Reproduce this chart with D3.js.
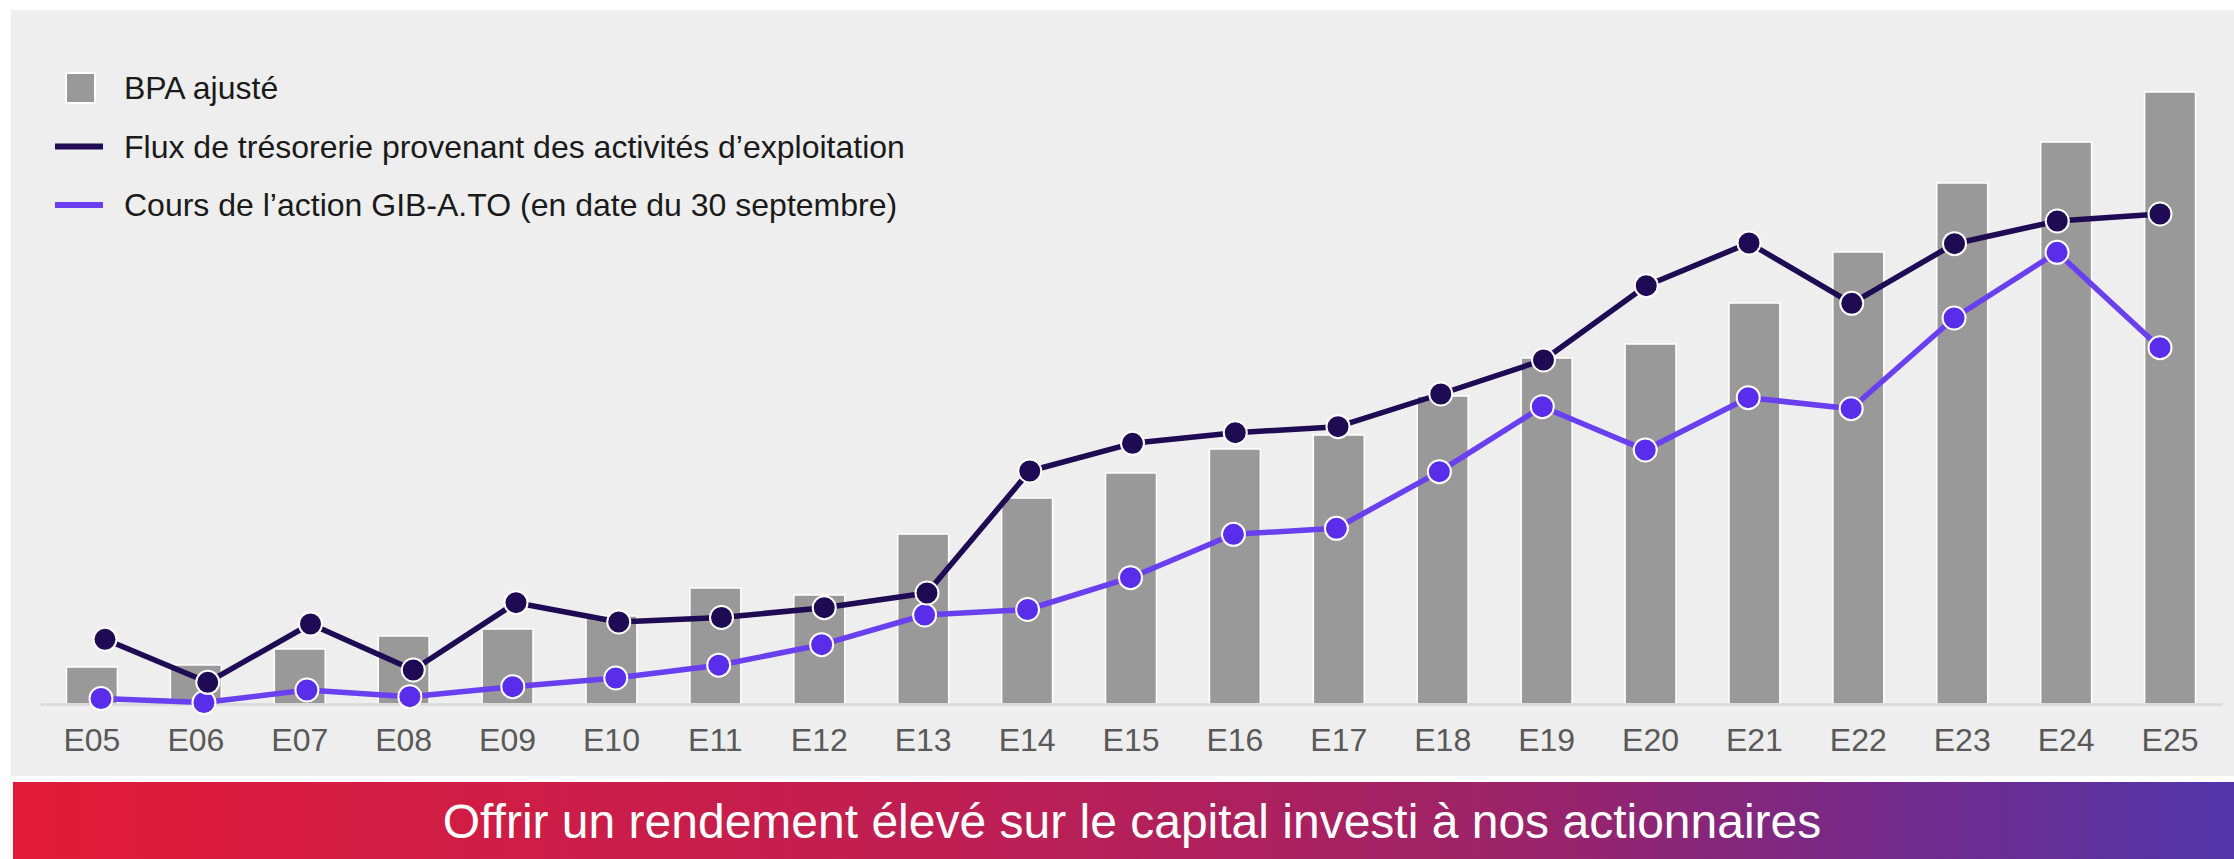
<!DOCTYPE html>
<html>
<head>
<meta charset="utf-8">
<script src="https://cdn.jsdelivr.net/npm/d3@7"></script>
<style>
  html, body { margin: 0; padding: 0; background: #ffffff; }
  svg { display: block; }
  text { font-family: "Liberation Sans", Arial, sans-serif; }
</style>
</head>
<body>
<svg id="chart" width="2234" height="859"></svg>
<script>
// ---- Data (relative index values) ----
const categories = ["E05","E06","E07","E08","E09","E10","E11","E12","E13","E14","E15","E16","E17","E18","E19","E20","E21","E22","E23","E24","E25"];
const bpaAjuste = [37, 39, 55, 68, 75, 88, 116, 109, 170, 206, 231, 255, 269, 308, 346, 360, 401, 452, 521, 562, 612];
const fluxTresorerie = [64.7, 21.7, 80, 34, 101.3, 82, 86.5, 96.3, 111, 233, 260.7, 271.3, 277.3, 310, 344, 418.3, 461, 400.7, 460.3, 483, 490];
const coursAction = [5.5, 1.5, 14, 7.3, 17.3, 26, 38.8, 59.3, 89, 94.5, 126.3, 169.7, 175.7, 232.3, 297.3, 254, 306.3, 295.3, 386, 451.7, 356.3];
const legendLabels = ["BPA ajusté", "Flux de trésorerie provenant des activités d’exploitation", "Cours de l’action GIB-A.TO (en date du 30 septembre)"];
const bannerText = "Offrir un rendement élevé sur le capital investi à nos actionnaires";

const svg = d3.select("#chart");
const W = 2234, H = 859;

// Panel background
svg.append("rect").attr("x", 11).attr("y", 10).attr("width", W - 11).attr("height", 766).attr("fill", "#eeeeee");

// Scales
const x = d3.scaleBand().domain(categories).range([40, 2222]).paddingInner(0.51).paddingOuter(0.255);
const xDark = d3.scalePoint().domain(categories).range([105, 2160]);
const xPurple = d3.scalePoint().domain(categories).range([101, 2160]);
const y = d3.scaleLinear().domain([0, 612]).range([704, 92]);

// Bars
svg.append("g").selectAll("rect").data(categories).join("rect")
  .attr("x", d => x(d))
  .attr("y", (d, i) => y(bpaAjuste[i]))
  .attr("width", x.bandwidth())
  .attr("height", (d, i) => y(0) - y(bpaAjuste[i]))
  .attr("fill", "#999999")
  .attr("stroke", "#ffffff")
  .attr("stroke-width", 1.5);

// Baseline axis
const xAxis = d3.axisBottom(x).tickSize(0).tickPadding(24);
const gx = svg.append("g").attr("transform", `translate(0,${y(0)})`).call(xAxis);
gx.select(".domain").attr("stroke", "#d9d9d9").attr("stroke-width", 2.5);
gx.selectAll("text").attr("font-size", 32).attr("fill", "#595959")
  .attr("font-family", "'Liberation Sans', Arial, sans-serif");

// Lines
function drawSeries(values, xs, lineColor, dotColor) {
  const line = d3.line().x((d, i) => xs(categories[i])).y(d => y(d));
  svg.append("path").datum(values).attr("d", line)
    .attr("fill", "none").attr("stroke", lineColor).attr("stroke-width", 5.5)
    .attr("stroke-linejoin", "round");
  svg.append("g").selectAll("circle").data(values).join("circle")
    .attr("cx", (d, i) => xs(categories[i]))
    .attr("cy", d => y(d))
    .attr("r", 11.5)
    .attr("fill", dotColor)
    .attr("stroke", "#ffffff").attr("stroke-width", 2);
}
drawSeries(coursAction, xPurple, "#6a3ff0", "#5a2deb");
drawSeries(fluxTresorerie, xDark, "#1f0a54", "#1f0a54");

// Legend
const legY = [88, 146.5, 205];
const leg = svg.append("g");
leg.append("rect").attr("x", 66).attr("y", legY[0] - 15).attr("width", 29).attr("height", 30)
  .attr("fill", "#999999").attr("stroke", "#ffffff").attr("stroke-width", 2);
leg.append("line").attr("x1", 55).attr("x2", 103).attr("y1", legY[1]).attr("y2", legY[1])
  .attr("stroke", "#1f0a54").attr("stroke-width", 6);
leg.append("line").attr("x1", 55).attr("x2", 103).attr("y1", legY[2]).attr("y2", legY[2])
  .attr("stroke", "#6a3ff0").attr("stroke-width", 6);
leg.selectAll("text").data(legendLabels).join("text")
  .attr("x", 124).attr("y", (d, i) => legY[i] + 11)
  .attr("font-size", 32).attr("fill", "#1a1a1a")
  .text(d => d);

// Banner
const defs = svg.append("defs");
const grad = defs.append("linearGradient").attr("id", "bannerGrad").attr("x1", "0%").attr("x2", "100%");
[[0, "#e11a37"], [0.45, "#bc1f55"], [0.68, "#9b2369"], [0.88, "#6c2c92"], [1, "#5236a8"]]
  .forEach(([o, c]) => grad.append("stop").attr("offset", o).attr("stop-color", c));
svg.append("rect").attr("x", 13).attr("y", 782).attr("width", W - 13).attr("height", 77).attr("fill", "url(#bannerGrad)");
svg.append("text").attr("x", 1132).attr("y", 838).attr("text-anchor", "middle")
  .attr("font-size", 48).attr("fill", "#ffffff").text(bannerText);
</script>
</body>
</html>
